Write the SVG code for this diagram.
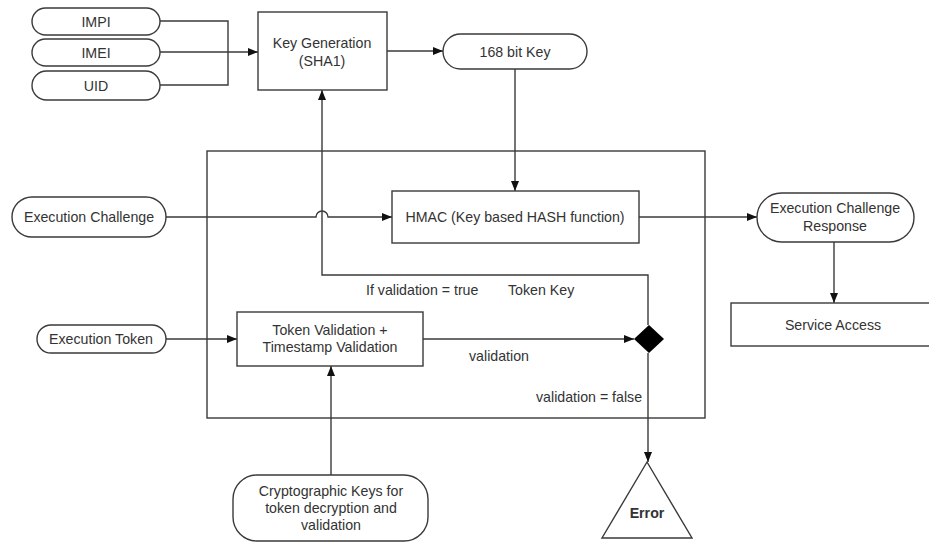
<svg xmlns="http://www.w3.org/2000/svg" width="929" height="543" viewBox="0 0 929 543">
<style>
.s{fill:#fff;stroke:#3a3a3a;stroke-width:1.4}
.c{fill:none;stroke:#3a3a3a;stroke-width:1.4}
text{font-family:"Liberation Sans",Arial,sans-serif;font-size:14.2px;fill:#333;text-anchor:middle;dominant-baseline:central}
.l{text-anchor:start}
</style>
<defs>
<marker id="a" viewBox="0 0 10 8" refX="10" refY="4" markerWidth="10" markerHeight="8" markerUnits="userSpaceOnUse" orient="auto">
<path d="M0,0 L10,4 L0,8 Z" fill="#111"/>
</marker>
</defs>
<rect width="929" height="543" fill="#fff"/>
<g id="boundary"><rect class="s" x="207" y="151" width="498" height="267" fill="none" style="fill:none"/></g>
<g id="connectors">
<path class="c" d="M160,21 H228 V85 H160"/>
<path class="c" d="M160,52 H258" marker-end="url(#a)"/>
<path class="c" d="M387,51 H443" marker-end="url(#a)"/>
<path class="c" d="M515,69 V191" marker-end="url(#a)"/>
<path class="c" d="M166,217 H316 A6,6 0 0 1 328,217 H392" marker-end="url(#a)"/>
<path class="c" d="M648,325 V275 H322 V90" marker-end="url(#a)"/>
<path class="c" d="M639,217 H757" marker-end="url(#a)"/>
<path class="c" d="M834,242 V303" marker-end="url(#a)"/>
<path class="c" d="M166,339 H237" marker-end="url(#a)"/>
<path class="c" d="M423,339 H634" marker-end="url(#a)"/>
<path class="c" d="M331,475 V366" marker-end="url(#a)"/>
<path class="c" d="M648,353 V462" marker-end="url(#a)"/>
</g>
<g id="impi"><rect class="s" x="32" y="8" width="128" height="27" rx="13.5"/><text x="96" y="21.5">IMPI</text></g>
<g id="imei"><rect class="s" x="32" y="39" width="128" height="27" rx="13.5"/><text x="96" y="52.5">IMEI</text></g>
<g id="uid"><rect class="s" x="32" y="71" width="128" height="29" rx="14.5"/><text x="96" y="85.5">UID</text></g>
<g id="keygen"><rect class="s" x="258" y="12" width="129" height="78"/><text x="322" y="43">Key Generation</text><text x="322" y="61">(SHA1)</text></g>
<g id="key168"><rect class="s" x="443" y="34" width="144" height="35" rx="17.5"/><text x="515" y="51.5">168 bit Key</text></g>
<g id="hmac"><rect class="s" x="392" y="191" width="247" height="52"/><text x="515" y="217">HMAC (Key based HASH function)</text></g>
<g id="execchallenge"><rect class="s" x="12" y="197" width="154" height="40" rx="20"/><text x="89" y="217">Execution Challenge</text></g>
<g id="response"><rect class="s" x="757" y="193" width="157" height="49" rx="24.5"/><text x="835" y="208">Execution Challenge</text><text x="835" y="226">Response</text></g>
<g id="service"><rect class="s" x="731" y="303" width="210" height="43"/><text x="833" y="325">Service Access</text></g>
<g id="exectoken"><rect class="s" x="37" y="325" width="129" height="28" rx="14"/><text x="101" y="339">Execution Token</text></g>
<g id="tokenval"><rect class="s" x="237" y="312" width="186" height="54"/><text x="330" y="330">Token Validation +</text><text x="330" y="347">Timestamp Validation</text></g>
<g id="decision"><path d="M649,325 L664,339 L649,353 L634,339 Z" fill="#000"/></g>
<g id="cryptokeys"><rect class="s" x="233" y="475" width="195" height="66" rx="24"/><text x="331" y="491">Cryptographic Keys for</text><text x="331" y="508">token decryption and</text><text x="331" y="525">validation</text></g>
<g id="error"><path class="s" d="M647,462 L692,538 L602,538 Z"/><text x="647" y="513" style="font-weight:bold">Error</text></g>
<g id="labels">
<text class="l" x="366" y="290">If validation = true</text>
<text class="l" x="508" y="290">Token Key</text>
<text class="l" x="469" y="356">validation</text>
<text class="l" x="536" y="397">validation = false</text>
</g>
</svg>
